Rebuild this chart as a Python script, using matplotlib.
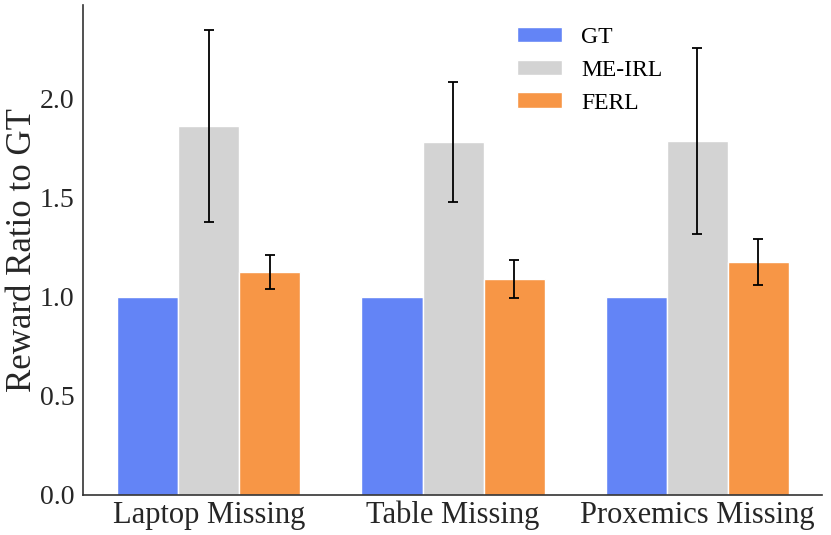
import numpy as np
import matplotlib.pyplot as plt

categories = ["Laptop Missing", "Table Missing", "Proxemics Missing"]
methods = ["GT", "ME-IRL", "FERL"]
gt_vals = [1.0, 1.0, 1.0]
meirl_vals = [1.865, 1.783, 1.788]
meirl_err = [0.485, 0.303, 0.470]
ferl_vals = [1.126, 1.091, 1.177]
ferl_err = [0.088, 0.098, 0.116]

colors = ["#6384f6", "#d3d3d3", "#f79646"]

plt.rcParams['font.family'] = ['Liberation Serif', 'DejaVu Serif']

fig = plt.figure(figsize=(8.31, 5.35), dpi=100)
ax = fig.add_axes([0.0999, 0.0748, 0.8893, 0.916])

x = np.arange(len(categories))
w = 0.25
series = [(gt_vals, None), (meirl_vals, meirl_err), (ferl_vals, ferl_err)]
for i, (vals, err) in enumerate(series):
    ax.bar(x + (i - 1) * w, vals, w, color=colors[i], edgecolor="white",
           linewidth=1, label=methods[i], yerr=err, capsize=3.3,
           error_kw=dict(elinewidth=1.3, capthick=1.3, ecolor="black"))

ax.set_xlim(-0.516, 2.512)
ax.set_ylim(0, 2.475)
ax.set_xticks(x)
ax.set_xticklabels(categories, fontsize=22, color="#262626")
ax.set_yticks([0.0, 0.5, 1.0, 1.5, 2.0])
ax.set_yticklabels(["0.0", "0.5", "1.0", "1.5", "2.0"], fontsize=20, color="#262626")
ax.tick_params(axis="x", length=0, pad=4)
ax.tick_params(axis="y", length=0, pad=6)
ax.set_ylabel("Reward Ratio to GT", fontsize=25, color="#262626", labelpad=1)

for s in ["top", "right"]:
    ax.spines[s].set_visible(False)
for s in ["left", "bottom"]:
    ax.spines[s].set_color("#333333")
    ax.spines[s].set_linewidth(1.2)

ax.legend(loc="upper left", bbox_to_anchor=(0.559, 0.999), frameon=False,
          fontsize=17, handlelength=1.9, handleheight=0.64, labelspacing=0.5,
          handletextpad=0.8)

plt.savefig("out.png")
